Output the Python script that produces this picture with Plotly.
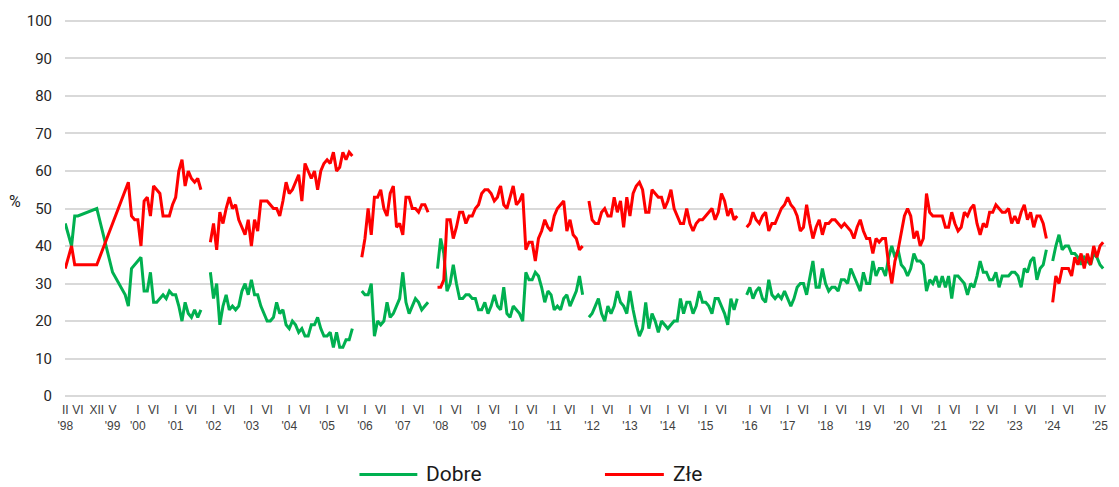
import plotly.graph_objects as go

# ---------------- DATA ----------------
# 1998-1999: irregular survey months
EARLY_MONTHS = ["1998-02", "1998-04", "1998-05", "1998-06", "1998-12", "1999-05", "1999-09", "1999-10"]
EARLY_DOBRE = [46, 40, 48, 48, 50, 33, 27, 24]
EARLY_ZLE = [34, 40, 35, 35, 35, 46, 55, 57]

# monthly segments (start month, values)
A_START = "1999-11"
A_DOBRE = [34, 35, 36, 37, 28, 28, 33, 25, 25, 26, 27, 26, 28, 27, 27, 24, 20, 25, 22, 21, 23, 21, 23]
A_ZLE = [48, 47, 47, 40, 52, 53, 48, 56, 55, 54, 48, 48, 48, 51, 53, 60, 63, 56, 60, 58, 57, 58, 55]

B_START = "2001-12"
B_DOBRE = [33, 26, 30, 19, 24, 27, 23, 24, 23, 24, 28, 30, 27, 31, 27, 27, 24, 22, 20, 20, 21, 25, 22, 23,
           19, 18, 20, 19, 17, 18, 16, 16, 19, 19, 21, 18, 16, 16, 17, 13, 17, 13, 13, 15, 15, 18]
B_ZLE = [41, 46, 39, 49, 46, 50, 53, 50, 51, 47, 45, 43, 47, 40, 47, 44, 52, 52, 52, 51, 50, 50, 48, 52,
         57, 54, 55, 57, 59, 52, 62, 60, 58, 60, 55, 60, 62, 63, 62, 65, 60, 61, 65, 63, 65, 64]

C_START = "2005-12"
C_DOBRE = [28, 27, 27, 30, 16, 20, 19, 20, 25, 21, 22, 24, 26, 33, 25, 22, 24, 26, 25, 23, 24, 25]
C_ZLE = [37, 42, 50, 43, 53, 53, 55, 50, 48, 54, 56, 45, 46, 43, 53, 53, 50, 50, 49, 51, 51, 49]

D_START = "2007-12"
D_DOBRE = [34, 42, 38, 28, 30, 35, 30, 26, 26, 27, 27, 26, 26, 23, 23, 25, 22, 24, 27, 24, 23, 29, 22, 21,
           24, 23, 22, 20, 33, 31, 31, 33, 32, 29, 25, 28, 27, 23, 24, 23, 26, 27, 24, 26, 28, 32, 27]
D_ZLE = [29, 29, 31, 47, 47, 42, 45, 49, 49, 46, 48, 48, 50, 51, 54, 55, 55, 54, 52, 53, 56, 51, 50, 53,
         56, 51, 52, 54, 39, 41, 41, 36, 42, 44, 47, 45, 44, 48, 50, 51, 52, 44, 47, 43, 42, 39, 40]

E_START = "2011-12"
E_DOBRE = [21, 22, 24, 26, 22, 20, 24, 22, 24, 28, 25, 24, 22, 28, 23, 19, 16, 18, 25, 18, 22, 20, 17, 20,
           19, 18, 19, 20, 20, 26, 22, 25, 25, 22, 24, 28, 25, 25, 24, 22, 26, 26, 24, 22, 19, 26, 23, 26]
E_ZLE = [52, 47, 46, 46, 49, 50, 48, 48, 53, 49, 52, 45, 53, 48, 54, 56, 57, 55, 49, 49, 55, 54, 53, 53,
         50, 52, 55, 50, 48, 46, 46, 50, 46, 44, 46, 47, 47, 48, 49, 50, 47, 49, 54, 52, 48, 50, 47, 48]

F_START = "2015-12"
F_DOBRE = [27, 29, 26, 28, 29, 26, 25, 31, 27, 26, 27, 26, 28, 26, 24, 26, 29, 30, 30, 27,
           32, 36, 29, 29, 34, 30, 28, 29, 29, 28, 31, 31, 30, 34, 32, 30, 28, 33, 30, 30,
           36, 32, 34, 34, 32, 37, 40, 37, 39, 35, 34, 32, 34, 38, 36, 36, 35, 28, 31, 30,
           32, 29, 32, 29, 32, 26, 32, 32, 31, 30, 27, 30, 29, 32, 36, 33, 33, 31, 31, 33,
           29, 32, 32, 32, 33, 33, 32, 29, 34, 33, 36, 37, 31, 34, 35, 39]
F_ZLE = [45, 46, 49, 47, 46, 48, 49, 44, 46, 46, 48, 50, 51, 53, 51, 50, 48, 44, 45, 51,
         46, 42, 45, 47, 43, 46, 46, 47, 47, 46, 45, 46, 45, 44, 42, 45, 47, 44, 42, 42,
         38, 42, 41, 42, 42, 35, 30, 36, 39, 44, 48, 50, 48, 42, 44, 40, 42, 54, 49, 48,
         48, 48, 48, 45, 45, 49, 46, 44, 45, 49, 48, 50, 51, 46, 43, 46, 45, 49, 49, 51,
         50, 49, 49, 50, 46, 48, 46, 49, 51, 47, 49, 45, 48, 48, 46, 42]

G_START = "2024-01"
G_DOBRE = [36, 40, 43, 39, 40, 40, 38, 38, 37, 35, 37, 36, 35, 38, 37, 35, 34]
G_ZLE = [25, 32, 30, 34, 34, 34, 32, 37, 35, 38, 34, 38, 35, 40, 37, 40, 41]

ROMAN = ["I", "II", "III", "IV", "V", "VI", "VII", "VIII", "IX", "X", "XI", "XII"]
TICK_MONTHS = (["1998-02", "1998-06", "1998-12", "1999-05"]
               + [f"{y}-{m:02d}" for y in range(2000, 2025) for m in (1, 6)]
               + ["2025-04"])
YEAR_LABEL_MONTHS = {"1998-02", "1999-05", "2025-04"} | {f"{y}-01" for y in range(2000, 2025)}

SERIES_NAMES = ["Dobre", "Złe"]
COLORS = ["#00B050", "#FF0000"]


# ---------------- helpers ----------------
def pos(ym):
    """Category position: month index from Jan 1998; the chart has an
    extra blank slot of two categories before December 2015."""
    y, m = map(int, ym.split("-"))
    idx = (y - 1998) * 12 + (m - 1)
    if (y, m) >= (2015, 12):
        idx += 2
    return idx


def shift(ym, k):
    y, m = map(int, ym.split("-"))
    t = y * 12 + (m - 1) + k
    return f"{t // 12}-{t % 12 + 1:02d}"


def build(early_vals, segs):
    xs = [pos(ym) for ym in EARLY_MONTHS]
    ys = list(early_vals)
    first = True
    for start, vals in segs:
        if not first:
            xs.append(None)
            ys.append(None)
        first = False
        xs += [pos(shift(start, k)) for k in range(len(vals))]
        ys += list(vals)
    return xs, ys


dob_x, dob_y = build(EARLY_DOBRE, [(A_START, A_DOBRE), (B_START, B_DOBRE), (C_START, C_DOBRE),
                                   (D_START, D_DOBRE), (E_START, E_DOBRE), (F_START, F_DOBRE),
                                   (G_START, G_DOBRE)])
zle_x, zle_y = build(EARLY_ZLE, [(A_START, A_ZLE), (B_START, B_ZLE), (C_START, C_ZLE),
                                 (D_START, D_ZLE), (E_START, E_ZLE), (F_START, F_ZLE),
                                 (G_START, G_ZLE)])

tickvals = [pos(t) for t in TICK_MONTHS]
ticktext = []
for t in TICK_MONTHS:
    y, m = map(int, t.split("-"))
    lab = ROMAN[m - 1]
    if t in YEAR_LABEL_MONTHS:
        lab += f"<br>'{y % 100:02d}"
    ticktext.append(lab)

# ---------------- figure ----------------
W, H = 1119, 487
ML, MR, MT, MB = 65, 11, 19, 89

fig = go.Figure()
for name, xs, ys, col in [(SERIES_NAMES[0], dob_x, dob_y, COLORS[0]),
                          (SERIES_NAMES[1], zle_x, zle_y, COLORS[1])]:
    fig.add_trace(go.Scatter(x=xs, y=ys, mode="lines", name=name,
                             line=dict(color=col, width=3), showlegend=False,
                             connectgaps=False))

fig.update_layout(
    width=W, height=H,
    margin=dict(l=ML, r=MR, t=MT, b=MB),
    paper_bgcolor="white", plot_bgcolor="white",
    font=dict(family="Roboto, Arial, sans-serif", color="#262626"),
    xaxis=dict(range=[0.92, 330.9], tickmode="array", tickvals=tickvals, ticktext=ticktext,
               showgrid=False, zeroline=False, showline=False, ticks="",
               tickfont=dict(family="Liberation Sans Narrow, Arial Narrow, Liberation Sans, sans-serif",
                             size=12, color="#404040"),
               tickangle=0, ticklabelstandoff=3),
    yaxis=dict(range=[-0.5, 100.5], tickmode="linear", tick0=0, dtick=10,
               showgrid=True, gridcolor="#D9D9D9", gridwidth=1.5, zeroline=False,
               showline=False, ticks="", ticklabelstandoff=12,
               tickfont=dict(family="Roboto, sans-serif", size=15, color="#262626")),
)

plot_w = W - ML - MR
plot_h = H - MT - MB


def px_x(px):
    return (px - ML) / plot_w


def px_y(py):
    return (H - MB - py) / plot_h


# "%" axis label
fig.add_annotation(x=px_x(15), y=px_y(201), xref="paper", yref="paper", text="%",
                   showarrow=False, font=dict(family="Roboto, sans-serif", size=16, color="#262626"),
                   xanchor="center", yanchor="middle")

# legend (drawn manually to match the long legend lines)
LEG = [(360, 418, 425, SERIES_NAMES[0], COLORS[0]), (606, 665, 672, SERIES_NAMES[1], COLORS[1])]
for x0, x1, tx, name, col in LEG:
    fig.add_shape(type="line", xref="paper", yref="paper", x0=px_x(x0), x1=px_x(x1),
                  y0=px_y(474.5), y1=px_y(474.5), line=dict(color=col, width=3))
    fig.add_annotation(x=px_x(tx), y=px_y(474.5), xref="paper", yref="paper", text=name,
                       showarrow=False, xanchor="left", yanchor="middle",
                       font=dict(family="Roboto, sans-serif", size=21, color="#1a1a1a"))

fig.write_html("out.html", config={"displayModeBar": False},
               post_script="document.body.style.margin='0';document.body.style.padding='0';")
